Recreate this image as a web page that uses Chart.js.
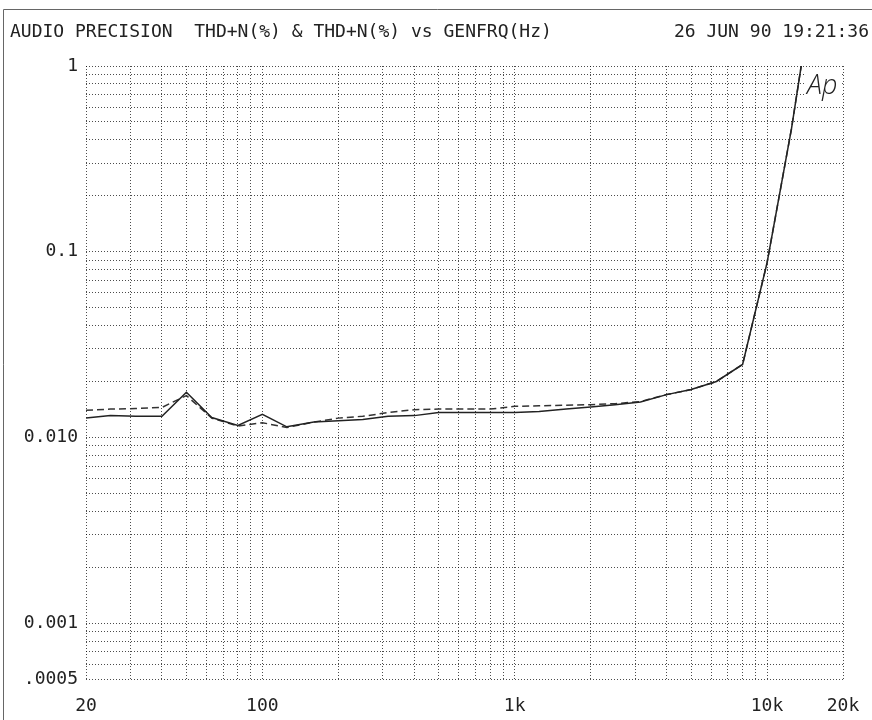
<!DOCTYPE html>
<html lang="en">
<head>
  <meta charset="UTF-8">
  <title>THD+N vs GENFRQ</title>
  <script src="https://cdn.jsdelivr.net/npm/chart.js"></script>
</head>
<style>
  body {
    margin: 0;
    background: #fff;
  }
</style>
<body>
  <canvas id="chartCanvas" width="872" height="720"></canvas>

  <script>
    // sweep points (Hz) and the two THD+N(%) traces
    const freqs = [20, 25, 31.5, 40, 50, 63, 80, 100, 125, 160, 200, 250, 315, 400, 500, 630, 800,
      1000, 1250, 1600, 2000, 2500, 3150, 4000, 5000, 6300, 8000, 10000, 12500, 16000];
    const thdA = [0.0127, 0.0131, 0.0130, 0.0130, 0.0175, 0.0128, 0.0116, 0.0133, 0.0114, 0.0121,
      0.0123, 0.0125, 0.0130, 0.0131, 0.0136, 0.0136, 0.0136, 0.0136, 0.0138, 0.0142, 0.0146,
      0.0150, 0.0155, 0.0170, 0.0181, 0.0200, 0.0247, 0.087, 0.46, 4.0];
    const thdB = [0.0140, 0.0142, 0.0143, 0.0145, 0.0168, 0.0127, 0.0115, 0.0120, 0.0113, 0.0121,
      0.0127, 0.0130, 0.0136, 0.0141, 0.0142, 0.0142, 0.0142, 0.0147, 0.0148, 0.0149, 0.0150,
      0.0152, 0.0156, 0.0170, 0.0181, 0.0200, 0.0247, 0.087, 0.46, 4.0];

    // grid lines and the labels printed on them
    const xGrid = [20, 30, 40, 50, 60, 70, 80, 90, 100, 200, 300, 400, 500, 600, 700, 800, 900,
      1000, 2000, 3000, 4000, 5000, 6000, 7000, 8000, 9000, 10000, 20000];
    const xLabels = { 20: '20', 100: '100', 1000: '1k', 10000: '10k', 20000: '20k' };
    const yGrid = [0.0005, 0.0006, 0.0007, 0.0008, 0.0009,
      0.001, 0.002, 0.003, 0.004, 0.005, 0.006, 0.007, 0.008, 0.009,
      0.01, 0.02, 0.03, 0.04, 0.05, 0.06, 0.07, 0.08, 0.09,
      0.1, 0.2, 0.3, 0.4, 0.5, 0.6, 0.7, 0.8, 0.9, 1];
    const yLabels = { 0.0005: '.0005', 0.001: '0.001', 0.01: '0.010', 0.1: '0.1', 1: '1' };

    const titleLeft = 'AUDIO PRECISION  THD+N(%) & THD+N(%) vs GENFRQ(Hz)';
    const titleRight = '26 JUN 90 19:21:36';

    const monoFont = { family: "'DejaVu Sans Mono', monospace", size: 18 };
    const ink = '#222';
    const gridColor = 'rgba(0,0,0,0.7)';

    const printout = {
      id: 'printout',
      beforeDatasetsDraw(chart) {
        const c = chart.ctx;
        c.save();
        c.fillStyle = '#fff';
        c.fillRect(806, 70, 36, 28);
        c.fillStyle = '#222';
        c.font = "300 italic 27px 'Open Sans', sans-serif";
        c.textBaseline = 'alphabetic';
        c.fillText('Ap', 807, 94);
        c.restore();
      },
      afterDraw(chart) {
        const c = chart.ctx;
        c.save();
        c.strokeStyle = '#666';
        c.lineWidth = 1;
        c.beginPath();
        c.moveTo(3.5, 720);
        c.lineTo(3.5, 9.5);
        c.lineTo(872, 9.5);
        c.stroke();
        c.fillStyle = ink;
        c.font = "18px 'DejaVu Sans Mono', monospace";
        c.textBaseline = 'middle';
        c.textAlign = 'left';
        c.fillText(titleLeft, 10, 32);
        c.textAlign = 'right';
        c.fillText(titleRight, 869, 32);
        c.restore();
      }
    };

    const ctx = document.getElementById('chartCanvas').getContext('2d');
    const chart = new Chart(ctx, {
      type: 'line',
      data: {
        datasets: [{
          label: 'THD+N(%) A',
          data: freqs.map((f, i) => ({ x: f, y: thdA[i] })),
          borderColor: ink,
          borderWidth: 1.5,
          pointRadius: 0,
          fill: false
        }, {
          label: 'THD+N(%) B',
          data: freqs.map((f, i) => ({ x: f, y: thdB[i] })),
          borderColor: '#333',
          borderWidth: 1.5,
          borderDash: [7, 4],
          pointRadius: 0,
          fill: false
        }]
      },
      options: {
        responsive: false,
        animation: false,
        layout: { padding: { top: 66, right: 29, left: 0, bottom: 0 } },
        plugins: {
          legend: { display: false },
          tooltip: { enabled: false }
        },
        scales: {
          x: {
            type: 'logarithmic',
            min: 20,
            max: 20000,
            afterBuildTicks: (scale) => { scale.ticks = xGrid.map(v => ({ value: v })); },
            afterFit: (scale) => {
              scale.height = 41;
              scale.paddingLeft = 0;
              scale.paddingRight = 0;
            },
            grid: { color: gridColor, lineWidth: 1, drawTicks: false },
            border: { display: false, dash: [1, 2] },
            ticks: {
              autoSkip: false,
              maxRotation: 0,
              padding: 17,
              color: ink,
              font: monoFont,
              callback: (v) => xLabels[v] || ''
            }
          },
          y: {
            type: 'logarithmic',
            min: 0.0005,
            max: 1,
            afterBuildTicks: (scale) => { scale.ticks = yGrid.map(v => ({ value: v })); },
            afterFit: (scale) => { scale.width = 86; },
            grid: { color: gridColor, lineWidth: 1, drawTicks: false },
            border: { display: false, dash: [1, 2] },
            ticks: {
              autoSkip: false,
              padding: 8,
              color: ink,
              font: monoFont,
              callback: (v) => yLabels[v] || ''
            }
          }
        }
      },
      plugins: [printout]
    });
  </script>
</body>
</html>
